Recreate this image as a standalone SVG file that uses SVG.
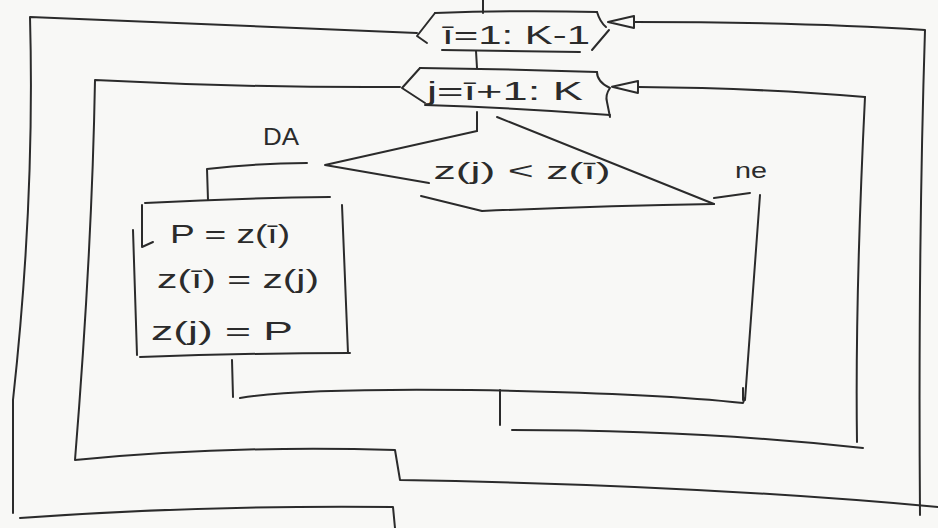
<svg xmlns="http://www.w3.org/2000/svg" width="938" height="528" viewBox="0 0 938 528">
  <defs>
    <style>
      .ln { fill: none; stroke: #2b2b2b; stroke-width: 2; stroke-linecap: round; stroke-linejoin: round; }
      .tx { font-family: "Liberation Sans", "DejaVu Sans", sans-serif; fill: #2b2b2b; text-anchor: middle; }
    </style>
    <marker id="arr" markerUnits="userSpaceOnUse" viewBox="-1 -1 28 14" markerWidth="28" markerHeight="14" refX="0" refY="6" orient="auto">
      <path d="M0,0 L26,6 L0,12 Z" fill="#f8f8f6" stroke="#2b2b2b" stroke-width="2" stroke-linejoin="round"/>
    </marker>
  </defs>
  <rect width="938" height="528" fill="#f8f8f6"/>

  <g id="loop-i">
    <path class="ln" d="M435,13 Q520,10 597,12"/>
    <path class="ln" d="M435,13 L417,36 L427,43"/>
    <path class="ln" d="M442,50 Q510,51 580,52"/>
    <path class="ln" d="M597,12 Q600,22 606,27 M609,30 L592,50"/>
    <text class="tx" x="516" y="44" font-size="26" textLength="148" lengthAdjust="spacingAndGlyphs">ī=1: K-1</text>
  </g>

  <g id="loop-j">
    <path class="ln" d="M420,68 Q510,69 597,72"/>
    <path class="ln" d="M420,68 L402,88 L425,103"/>
    <path class="ln" d="M425,105 Q520,108 610,115"/>
    <path class="ln" d="M597,72 Q597,82 610,88 Q605,95 607,102 L610,117"/>
    <text class="tx" x="505" y="100" font-size="26" textLength="156" lengthAdjust="spacingAndGlyphs">j=ī+1: K</text>
  </g>

  <g id="decision">
    <path class="ln" d="M477,131 L325,165 L429,183"/>
    <path class="ln" d="M421,196 L482,211 Q600,206 714,204"/>
    <path class="ln" d="M497,117 L714,204"/>
    <text class="tx" x="522" y="179" font-size="24" textLength="177" lengthAdjust="spacingAndGlyphs">z(j) &lt; z(ī)</text>
  </g>

  <g id="assign">
    <path class="ln" d="M145,203 Q240,198 330,197"/>
    <path class="ln" d="M342,205 L348,353"/>
    <path class="ln" d="M140,357 Q250,353 350,353"/>
    <path class="ln" d="M133,230 L137,355"/>
    <path class="ln" d="M142,205 L142,247 L153,242"/>
    <text class="tx" x="230" y="243" font-size="26" textLength="120" lengthAdjust="spacingAndGlyphs">P = z(ī)</text>
    <text class="tx" x="238" y="288" font-size="26" textLength="162" lengthAdjust="spacingAndGlyphs">z(ī) = z(j)</text>
    <text class="tx" x="222" y="340" font-size="26" textLength="142" lengthAdjust="spacingAndGlyphs">z(j) = P</text>
  </g>

  <g id="labels">
    <text class="tx" x="281" y="145" font-size="24" textLength="36" lengthAdjust="spacingAndGlyphs">DA</text>
    <text class="tx" x="751" y="178" font-size="22" textLength="32" lengthAdjust="spacingAndGlyphs">ne</text>
  </g>

  <g id="connectors">
    <!-- entry and flow -->
    <path class="ln" d="M483,0 L483,13"/>
    <path class="ln" d="M476,51 L477,68"/>
    <path class="ln" d="M477,112 L477,131"/>
    <!-- DA branch -->
    <path class="ln" d="M307,163 Q260,163 207,169 L208,200"/>
    <!-- NE branch -->
    <path class="ln" d="M714,198 L750,193"/>
    <path class="ln" d="M760,195 Q752,300 745,400"/>
    <path class="ln" d="M743,388 L743,400" stroke-width="3.5"/>
    <!-- merge -->
    <path class="ln" d="M232,360 L233,397"/>
    <path class="ln" d="M240,398 Q300,388 470,390 Q650,393 743,403 L745,398"/>
    <path class="ln" d="M500,390 L500,425"/>
    <!-- j loop return -->
    <path class="ln" d="M512,430 Q700,430 863,448"/>
    <path class="ln" d="M857,442 Q855,300 865,97"/>
    <path class="ln" d="M865,97 Q760,88 638,87" marker-end="url(#arr)"/>
    <!-- j loop entry / exit (inner left) -->
    <path class="ln" d="M400,87 Q250,88 95,80 Q92,250 75,460 Q230,445 395,450 L400,480 Q700,485 938,507"/>
    <!-- i loop outer -->
    <path class="ln" d="M417,33 Q220,25 30,17 Q35,200 13,400 L13,513"/>
    <path class="ln" d="M20,518 Q200,505 393,507 L395,528"/>
    <path class="ln" d="M920,515 Q918,250 925,30 Q800,22 634,22" marker-end="url(#arr)"/>
  </g>
</svg>
